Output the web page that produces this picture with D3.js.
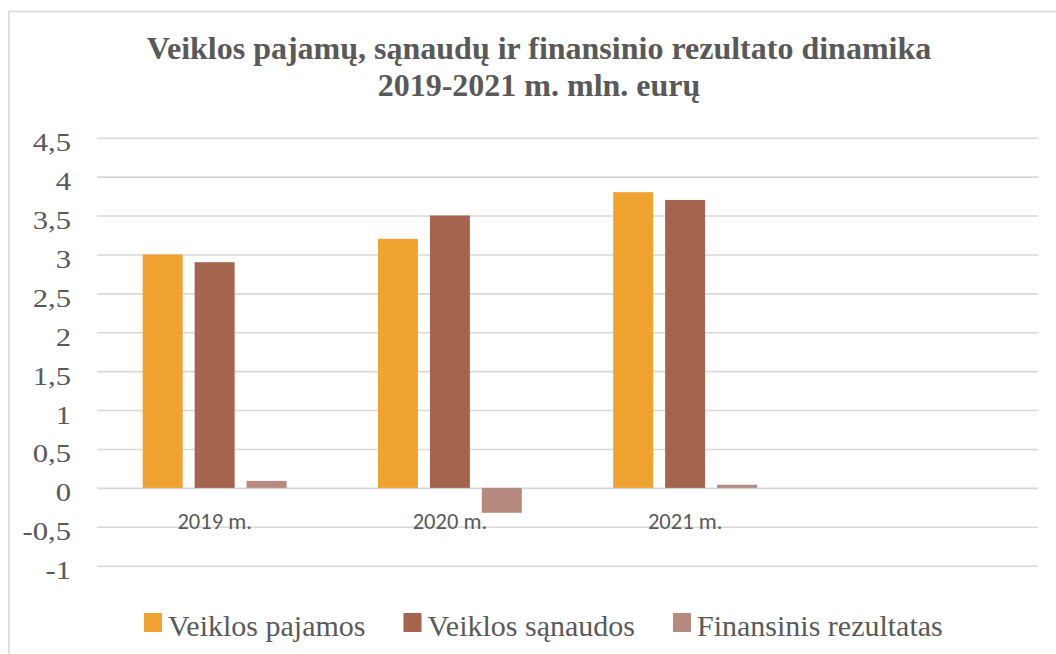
<!DOCTYPE html>
<html>
<head>
<meta charset="utf-8">
<script src="https://cdn.jsdelivr.net/npm/d3@7"></script>
<style>
  body { margin: 0; background: #fff; }
  svg { display: block; }
</style>
</head>
<body>
<script>
((() => {

// Data
let categories = ['2019 m.', '2020 m.', '2021 m.', ''];
let seriesNames = ['Veiklos pajamos', 'Veiklos sąnaudos', 'Finansinis rezultatas'];
let pajamos = [3.0, 3.2, 3.8, null];
let sanaudos = [2.9, 3.5, 3.7, null];
let rezultatas = [0.09, -0.32, 0.04, null];
let yTicks = [-1, -0.5, 0, 0.5, 1, 1.5, 2, 2.5, 3, 3.5, 4, 4.5];
let titleLines = ['Veiklos pajamų, sąnaudų ir finansinio rezultato dinamika', '2019-2021 m. mln. eurų'];

let colors = ['#F0A330', '#A5644E', '#B68A7E'];
let seriesValues = [pajamos, sanaudos, rezultatas];

let width = 1056,
    height = 654;

let plot = { left: 97, right: 1038, top: 137.7, bottom: 565.7 };

let svg = d3.select('body')
  .append('svg')
    .attr('width', width)
    .attr('height', height)
    .style('background', '#fff');

// outer border of the chart area (cut off on right and bottom)
svg.append('rect')
  .attr('x', 9)
  .attr('y', 11.5)
  .attr('width', 1200)
  .attr('height', 800)
  .attr('fill', 'none')
  .attr('stroke', '#D9D9D9')
  .attr('stroke-width', 1.6);

// Title
svg.append('g')
  .selectAll('text')
  .data(titleLines)
  .enter()
  .append('text')
    .attr('x', 539)
    .attr('y', (d, i) => 59 + i * 37)
    .attr('text-anchor', 'middle')
    .style('font-family', '"Liberation Serif", "Times New Roman", serif')
    .style('font-weight', 'bold')
    .style('font-size', '32px')
    .style('fill', '#595959')
    .text(d => d);

// Scales
let yScale = d3.scaleLinear()
  .domain([-1, 4.5])
  .range([plot.bottom, plot.top]);

let x0 = d3.scaleBand()
  .domain(categories)
  .range([plot.left, plot.right])
  .padding(0);

let x1 = d3.scaleBand()
  .domain(seriesNames)
  .range([0, x0.bandwidth()])
  .paddingInner(0.23)
  .paddingOuter(0.88);

// Y axis with gridlines
let yAxis = svg.append('g')
  .attr('transform', `translate(${plot.left},0)`)
  .call(d3.axisLeft(yScale)
    .tickValues(yTicks)
    .tickSize(-(plot.right - plot.left))
    .tickPadding(26)
    .tickFormat(d => String(d).replace('.', ',')));

yAxis.select('.domain').remove();
yAxis.selectAll('line')
  .attr('stroke', '#D9D9D9')
  .attr('stroke-width', 1.6);
yAxis.selectAll('text')
  .attr('dy', '0.5em')
  .style('font-family', '"Liberation Serif", "Times New Roman", serif')
  .style('font-size', '26px')
  .style('fill', '#595959')
  .each(function() {
    // labels in the picture are a little wider than plain Times
    let w = this.getComputedTextLength();
    d3.select(this)
      .attr('textLength', w * 1.18)
      .attr('lengthAdjust', 'spacingAndGlyphs');
  });

// Bars
let groups = svg.append('g')
  .selectAll('g')
  .data(categories.map((c, i) => ({ cat: c, i: i })))
  .enter()
  .append('g')
    .attr('transform', d => `translate(${x0(d.cat)},0)`);

groups.selectAll('rect')
  .data(d => seriesNames.map((s, k) => ({ name: s, k: k, value: seriesValues[k][d.i] })))
  .enter()
  .filter(d => d.value != null)
  .append('rect')
    .attr('x', d => x1(d.name))
    .attr('y', d => yScale(Math.max(0, d.value)))
    .attr('width', x1.bandwidth())
    .attr('height', d => Math.abs(yScale(d.value) - yScale(0)))
    .attr('fill', d => colors[d.k]);

// X axis labels (next to zero line)
let xAxis = svg.append('g')
  .attr('transform', `translate(0,${yScale(0)})`)
  .call(d3.axisBottom(x0).tickSize(0).tickPadding(25));

xAxis.select('.domain').remove();
xAxis.selectAll('text')
  .style('font-family', 'Carlito, "Liberation Sans", Arial, sans-serif')
  .style('font-size', '22.5px')
  .style('fill', '#595959');

// Legend
let legend = svg.append('g')
  .attr('transform', 'translate(144,0)');

let lx = 0;
seriesNames.forEach((name, k) => {
  let item = legend.append('g').attr('transform', `translate(${lx},0)`);
  item.append('rect')
    .attr('x', 0)
    .attr('y', 613)
    .attr('width', 18)
    .attr('height', 19)
    .attr('fill', colors[k]);
  let t = item.append('text')
    .attr('x', 24)
    .attr('y', 636)
    .style('font-family', '"Liberation Serif", "Times New Roman", serif')
    .style('font-size', '30px')
    .style('fill', '#595959')
    .text(name);
  lx += 24 + t.node().getComputedTextLength() + 38;
});

})());
</script>
</body>
</html>
